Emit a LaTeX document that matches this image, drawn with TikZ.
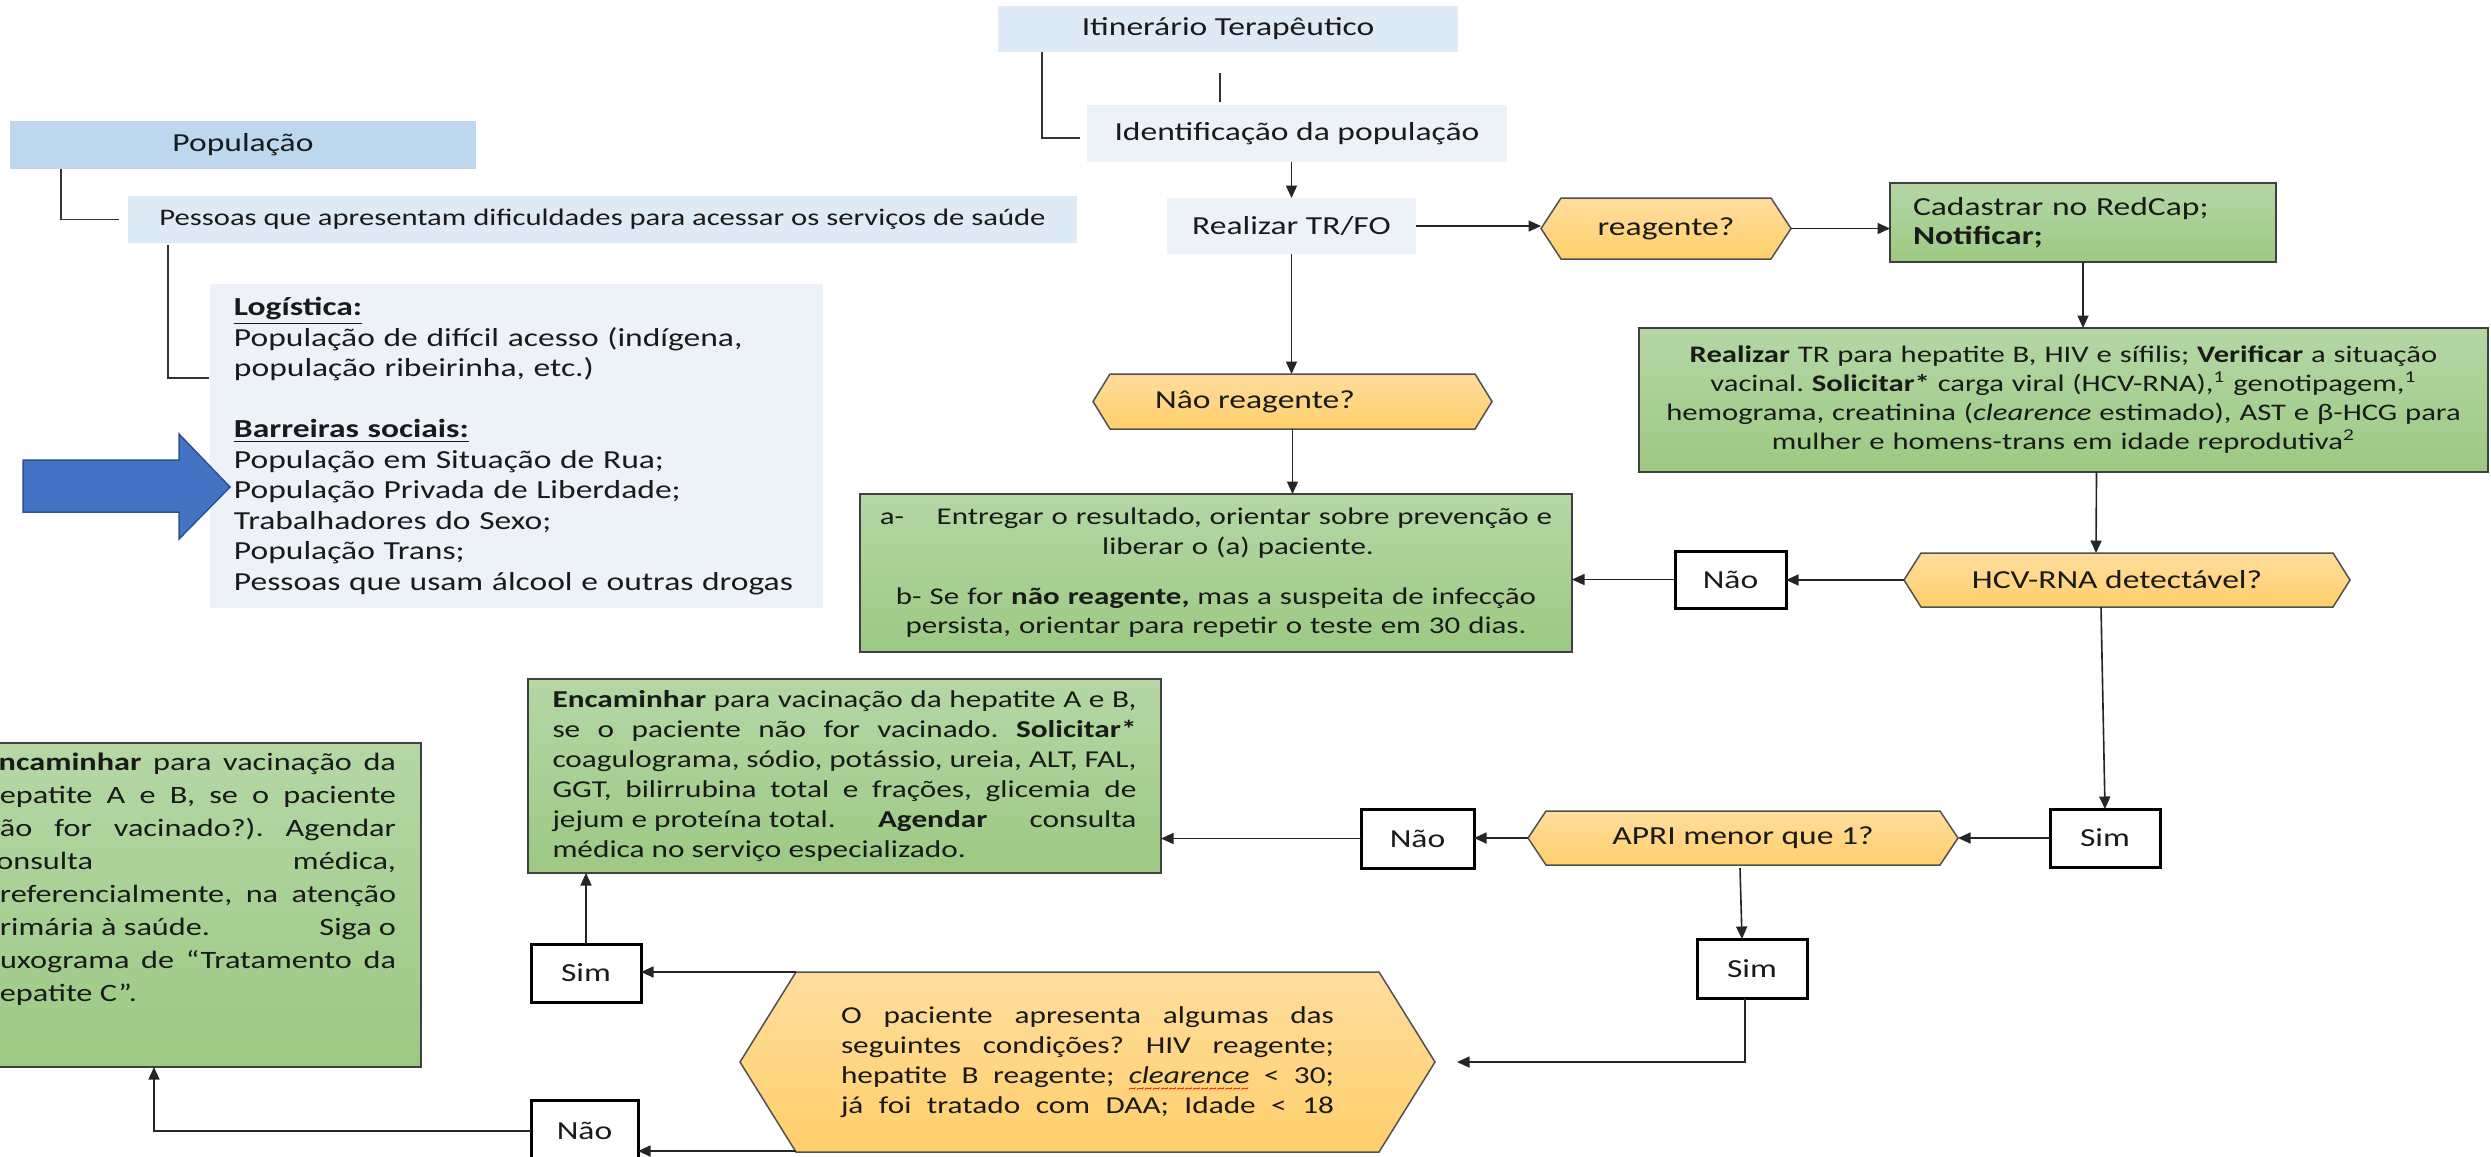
\documentclass[tikz,border=0pt]{standalone}
\usepackage{fontspec}
\setmainfont{Carlito}[FakeStretch=1.29]
\usetikzlibrary{arrows.meta,backgrounds}
\frenchspacing
\newlength\wavew
\newcommand\redwave[1]{\settowidth{\wavew}{#1}\rlap{\raisebox{-3.6pt}{\textcolor{red}{\hbox to \wavew{\xleaders\hbox{\fontsize{5}{5}\selectfont\char"007E}\hfil}}}}#1}
\def\pxu{0.4pt}
\newcommand\jl[1]{\makebox[\linewidth][s]{#1}\par}
\definecolor{cItin}{HTML}{DEEAF6}
\definecolor{cPop}{HTML}{BDD7EE}
\definecolor{cPale}{HTML}{EDF2F9}
\definecolor{cGTop}{HTML}{B5D7A5}
\definecolor{cGBot}{HTML}{9DC983}
\definecolor{cHTop}{HTML}{FFDD9E}
\definecolor{cHBot}{HTML}{FFCF6A}
\definecolor{cHLine}{HTML}{505050}
\definecolor{cArrF}{HTML}{4472C4}
\definecolor{cArrD}{HTML}{2F528F}
\definecolor{cTxt}{HTML}{1A1A1A}
\begin{document}
\begin{tikzpicture}[x=0.4pt,y=-0.4pt,
  every node/.style={inner sep=0pt,outer sep=0pt,text=cTxt},
  sz/.style 2 args={minimum width=#1*0.4pt,minimum height=#2*0.4pt},
  base/.style={font=\fontsize{10.4}{12.2}\selectfont},
  smallf/.style={font=\fontsize{9.6}{11.8}\selectfont},
  gbox/.style={draw=black!75,line width=0.8pt,top color=cGTop,bottom color=cGBot},
  hexn/.style={base},
  choice/.style={base,draw=black,line width=1.2pt,fill=white},
  hexdraw/.style={draw=cHLine,line width=0.6pt,top color=cHTop,bottom color=cHBot},
  arr/.style={draw=black!85,line width=0.65pt,-{Triangle[length=5pt,width=4.4pt]}},
  ln/.style={draw=black!80,line width=0.55pt}]
\useasboundingbox (0,0) rectangle (2491,1156);

% left column
\node[base,fill=cPop,sz={466}{48}] (pop) at (243,145) {População};
\node[font=\fontsize{9.5}{11.6}\selectfont,fill=cItin,sz={949}{47}] (pess) at (602.5,219.5) {Pessoas que apresentam dificuldades para acessar os serviços de saúde};
\node[base,fill=cPale,sz={613}{324},text width=226pt,align=left] (logi) at (516.5,446)
 {\underline{\textbf{Logística:}}\\ População de difícil acesso (indígena,\\ população ribeirinha, etc.)\\[12.2pt]
  \underline{\textbf{Barreiras sociais:}}\\ População em Situação de Rua;\\ População Privada de Liberdade;\\ Trabalhadores do Sexo;\\ População Trans;\\ Pessoas que usam álcool e outras drogas};
\filldraw[fill=cArrF,draw=cArrD,line width=0.6pt] (23,460) -- (179,460) -- (179,434) -- (230,487) -- (179,539) -- (179,512) -- (23,512) -- cycle;

% top flow
\node[base,fill=cItin,sz={460}{46}] (itin) at (1228,29) {Itinerário Terapêutico};
\node[base,fill=cPale,sz={420}{57}] (ident) at (1297,133.5) {Identificação da população};
\node[base,fill=cPale,sz={249}{56}] (realiz) at (1291.5,226) {Realizar TR/FO};
\node[hexn,sz={250}{61}] (reag) at (1666,228.5) {reagente?};
\node[base,gbox,sz={386}{79},text width=136pt,align=left,font=\fontsize{10.4}{11.4}\selectfont] (cadas) at (2083,222.5)
 {Cadastrar no RedCap;\\ \textbf{Notificar;}};
\node[gbox,sz={849}{144},text width=330pt,align=center,font=\fontsize{9.5}{11.6}\selectfont] (green1) at (2063.5,400)
 {\textbf{Realizar} TR para hepatite B, HIV e sífilis; \textbf{Verificar} a situação\\
  vacinal. \textbf{Solicitar*} carga viral (HCV-RNA),\textsuperscript{1} genotipagem,\textsuperscript{1}\\
  hemograma, creatinina (\textit{clearence} estimado), AST e β-HCG para\\
  mulher e homens-trans em idade reprodutiva\textsuperscript{2}};
\node[hexn,sz={399}{55}] (nreag) at (1292.5,401.5) {Nâo reagente?\hspace*{30pt}};
\node[gbox,smallf,sz={712}{158},text width=276pt,align=center] (green2) at (1216,573)
 {a-\hspace{13pt}Entregar o resultado, orientar sobre prevenção e\\
  \hspace*{17.6pt}liberar o (a) paciente.\\[8.2pt]
  b- Se for \textbf{não reagente,} mas a suspeita de infecção\\
  persista, orientar para repetir o teste em 30 dias.};
\node[hexn,sz={446}{54}] (hcv) at (2127,580) {HCV-RNA detectável?\hspace*{8pt}};
\node[choice,sz={111}{57}] (nao1) at (1730.5,579.5) {Não};
\node[choice,sz={110}{58}] (sim1) at (2105,838) {Sim};
\node[hexn,sz={430}{54}] (apri) at (1743,838) {APRI menor que 1?};
\node[choice,sz={113}{59}] (nao2) at (1417.5,838.5) {Não};
\node[gbox,sz={633}{194},font=\fontsize{9.7}{12}\selectfont] (green3) at (844.5,776)
 {\parbox{233.6pt}{%
  \jl{\textbf{Encaminhar} para vacinação da hepatite A e B,}
  \jl{se o paciente não for vacinado. \textbf{Solicitar*}}
  \jl{coagulograma, sódio, potássio, ureia, ALT, FAL,}
  \jl{GGT, bilirrubina total e frações, glicemia de}
  \jl{jejum e proteína total.\hfill\textbf{Agendar}\hfill consulta}
  médica no serviço especializado.}};
\node[choice,sz={110}{59}] (sim3) at (1752,968.5) {Sim};
\node[hexn,sz={695}{180},font=\fontsize{9.7}{12}\selectfont] (bighex) at (1087.5,1062)
 {\parbox{197.2pt}{%
  \jl{O paciente apresenta algumas das}
  \jl{seguintes condições? HIV reagente;}
  \jl{hepatite B reagente; \textit{\redwave{clearence}} < 30;}
  \jl{já foi tratado com DAA; Idade < 18}}};
\node[choice,sz={110}{58}] (sim2) at (586,973) {Sim};
\node[choice,sz={107}{62}] (nao3) at (584.5,1131) {Não};
\node[gbox,sz={463}{324},font=\fontsize{10}{13.2}\selectfont] (green4) at (189.5,905)
 {\parbox[c][121.6pt][t]{165.2pt}{%
  \jl{\textbf{Encaminhar} para vacinação da}
  \jl{hepatite A e B, se o paciente}
  \jl{não for vacinado?). Agendar}
  \jl{consulta médica,}
  \jl{preferencialmente, na atenção}
  \jl{primária à saúde.\hfill Siga o}
  \jl{fluxograma de “Tratamento da}
  hepatite C”.}};

% hexagon outlines
\begin{scope}[on background layer]
\foreach \n/\s in {reag/20,nreag/17,hcv/17,apri/18,bighex/56}{
  \path[hexdraw] (\n.west) -- ([xshift=\s*0.4pt]\n.north west) -- ([xshift=-\s*0.4pt]\n.north east)
   -- (\n.east) -- ([xshift=-\s*0.4pt]\n.south east) -- ([xshift=\s*0.4pt]\n.south west) -- cycle;
}
\end{scope}

% connectors
\draw[ln] ([xshift=51*\pxu]pop.south west) |- ([xshift=-9*\pxu]pess.west);
\draw[ln] ([xshift=40*\pxu,yshift=-2*\pxu]pess.south west) |- ([xshift=-1*\pxu,yshift=68*\pxu]logi.west);
\draw[ln] ([xshift=44*\pxu]itin.south west) |- ([xshift=-7*\pxu,yshift=-4.5*\pxu]ident.west);
\draw[ln] ([xshift=-8*\pxu,yshift=-21*\pxu]itin.south) -- ++(0,29);
\draw[arr] (realiz.north |- ident.south) -- (realiz.north);
\draw[arr] (realiz.east) -- (realiz.east -| reag.west);
\draw[arr] (reag.east) -- (reag.east -| cadas.west);
\draw[arr] (cadas.south) -- (cadas.south |- green1.north);
\draw[arr] (realiz.south) -- (realiz.south |- nreag.north);
\draw[arr] (nreag.south) -- (nreag.south |- green2.north);
\draw[arr] ([xshift=33*\pxu]green1.south) -- ([xshift=-31*\pxu]hcv.north);
\draw[arr] (hcv.west) -- (hcv.west -| nao1.east);
\draw[arr] (nao1.west) -- (nao1.west -| green2.east);
\draw[arr] ([xshift=-26*\pxu]hcv.south) -- (sim1.north);
\draw[arr] (sim1.west) -- (sim1.west -| apri.east);
\draw[arr] (apri.west) -- (apri.west -| nao2.east);
\draw[arr] (nao2.west) -- (nao2.west -| green3.east);
\draw[arr] ([xshift=-3*\pxu,yshift=-3*\pxu]apri.south) -- ([xshift=-10*\pxu]sim3.north);
\draw[arr] ([xshift=-7*\pxu]sim3.south) |- ([xshift=22*\pxu]bighex.east);
\draw[arr] ([xshift=56*\pxu]bighex.north west) -- (bighex.north west -| sim2.east);
\draw[arr] (sim2.north) -- (sim2.north |- green3.south);
\draw[arr] ([xshift=56*\pxu,yshift=1*\pxu]bighex.south west) -- ([yshift=1*\pxu]bighex.south west -| nao3.east);
\draw[arr] (nao3.west) -| ([xshift=-35.5*\pxu]green4.south);
\end{tikzpicture}
\end{document}
